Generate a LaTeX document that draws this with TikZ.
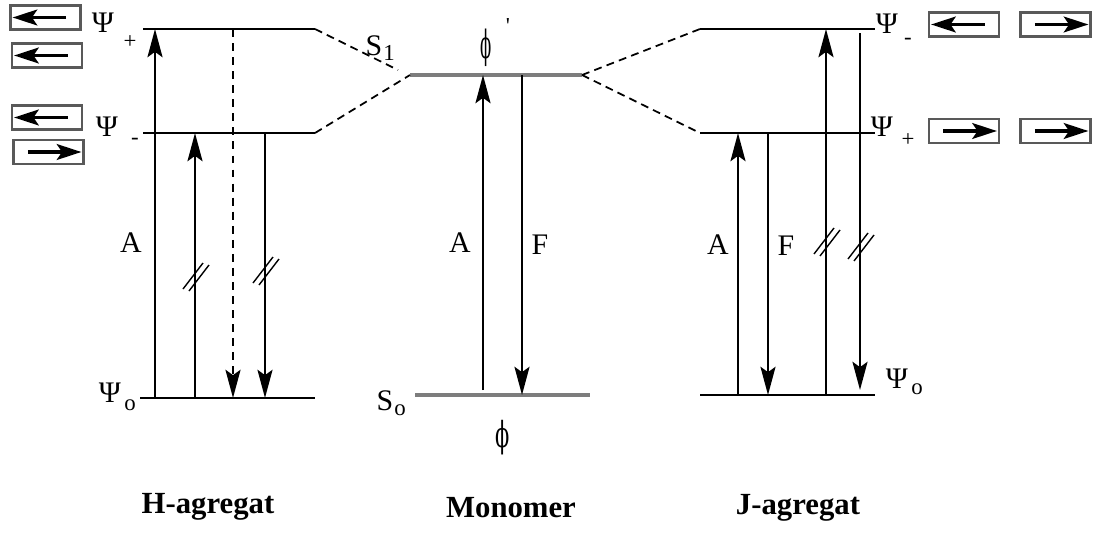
\documentclass[tikz,border=0pt]{standalone}
\usepackage{fontspec}
\setmainfont{Liberation Serif}
\newfontfamily\phifont{DejaVu Serif}
\usetikzlibrary{arrows.meta, positioning, calc}
\definecolor{levelgray}{RGB}{125,125,125}

\tikzset{
	level/.style={line width=1.6pt},
	monolevel/.style={line width=2.2pt, levelgray},
	link/.style={line width=1pt, dash pattern=on 4.5pt off 3pt},
	trans/.style={line width=1.6pt, -{Stealth[length=16pt,width=8.5pt,inset=3pt]}},
	nonrad/.style={trans, dash pattern=on 4.5pt off 3.5pt},
	dipole/.style={draw=black!65, line width=1.6pt, minimum width=1.4cm, minimum height=0.48cm, inner sep=0pt},
	dip/.style={line width=1.8pt, -{Stealth[length=14pt,width=9pt,inset=3pt]}, shorten >=2pt, shorten <=9pt},
	lab/.style={inner sep=0pt, font=\fontsize{17}{17}\selectfont},
	sub/.style={inner sep=0pt, font=\fontsize{13}{13}\selectfont},
	title/.style={inner sep=0pt, font=\fontsize{17.5}{18}\selectfont\bfseries},
	brk/.pic={\draw[line width=0.8pt] (-12,13)--(8,-13) (-6,15)--(14,-11);}
}

\begin{document}
\begin{tikzpicture}[x=0.02cm, y=-0.02cm]
\useasboundingbox (0,0) rectangle (1099,534);

% energy levels
\coordinate (hpL) at (143,29);  \coordinate (hpR) at (315,29);
\coordinate (hmL) at (143,133); \coordinate (hmR) at (315,133);
\coordinate (hgL) at (140,398); \coordinate (hgR) at (315,398);
\coordinate (s1L) at (410,75);  \coordinate (s1R) at (582,75);
\coordinate (s0L) at (415,395); \coordinate (s0R) at (590,395);
\coordinate (jmL) at (700,29);  \coordinate (jmR) at (875,29);
\coordinate (jpL) at (700,133); \coordinate (jpR) at (875,133);
\coordinate (jgL) at (700,395); \coordinate (jgR) at (875,395);

\draw[level] (hpL) -- (hpR);
\draw[level] (hmL) -- (hmR);
\draw[level] (hgL) -- (hgR);
\draw[monolevel] (s1L) -- (s1R);
\draw[monolevel] (s0L) -- (s0R);
\draw[level] (jmL) -- (jmR);
\draw[level] (jpL) -- (jpR);
\draw[level] (jgL) -- (jgR);

% splitting
\draw[link] (hpR) -- ($(s1L)+(-12,-5)$);
\draw[link] (hmR) -- (s1L);
\draw[link] (s1R) -- (jmL);
\draw[link] (s1R) -- (jpL);

% transitions
\coordinate (h1) at (155,0); \coordinate (h2) at (195,0);
\coordinate (h3) at (233,0); \coordinate (h4) at (265,0);
\coordinate (m1) at (483,0); \coordinate (m2) at (522,0);
\coordinate (j1) at (738,0); \coordinate (j2) at (768,0);
\coordinate (j3) at (826,0); \coordinate (j4) at (860,0);

\draw[trans] (h1 |- hgL) -- (h1 |- hpL);
\draw[trans] (h2 |- hgL) -- (h2 |- hmL);
\draw[nonrad] (h3 |- hpL) -- (h3 |- hgL);
\draw[trans] (h4 |- hmL) -- (h4 |- hgL);
\pic at ($(h2)+(0,276)$) {brk};
\pic at ($(h4)+(0,270)$) {brk};

\draw[trans] ($(m1 |- s0L)+(0,-5)$) -- (m1 |- s1L);
\draw[trans] (m2 |- s1L) -- (m2 |- s0L);

\draw[trans] (j1 |- jgL) -- (j1 |- jpL);
\draw[trans] (j2 |- jpL) -- (j2 |- jgL);
\draw[trans] (j3 |- jgL) -- (j3 |- jmL);
\draw[trans] ($(j4 |- jmL)+(0,4)$) -- ($(j4 |- jgL)+(0,-5)$);
\pic at ($(j3)+(0,241)$) {brk};
\pic at ($(j4)+(0,246)$) {brk};

% labels
\node[lab] (aH) at (131,243) {A};
\node[lab] (aM) at (460,243) {A};
\node[lab] (fM) at (540,245) {F};
\node[lab] (aJ) at (718,245) {A};
\node[lab] (fJ) at (786,246) {F};

\node[lab] (psiHp) at (103,23) {Ψ};
\node[sub] (psiHpS) at (130,42) {+};
\node[lab] (psiHm) at (107,127) {Ψ};
\node[sub] (psiHmS) at (135,141) {-};
\node[lab] (psiHo) at (110,393) {Ψ};
\node[sub] (psiHoS) at (130,405) {o};

\node[lab] (sOne) at (374,46) {S};
\node[sub] (sOneS) at (389,53) {1};
\node[lab] (phiOne) at (486,48) {\scalebox{0.55}[1.3]{\phifont ϕ}};
\node[sub] (phiOneP) at (508,26) {\textquotesingle};
\node[lab] (sZero) at (385,401) {S};
\node[sub] (sZeroS) at (400,410) {o};
\node[lab] (phiZero) at (503,438) {\scalebox{0.7}[1.2]{\phifont ϕ}};

\node[lab] (psiJm) at (887,24) {Ψ};
\node[sub] (psiJmS) at (908,41) {-};
\node[lab] (psiJp) at (882,127) {Ψ};
\node[sub] (psiJpS) at (908,140) {+};
\node[lab] (psiJo) at (897,379) {Ψ};
\node[sub] (psiJoS) at (917,389) {o};

% dipole boxes
\node[dipole] (dH1) at (45.5,17.5) {};
\node[dipole] (dH2) at (47,55.5) {};
\node[dipole] (dH3) at (47,117.5) {};
\node[dipole] (dH4) at (48.5,152) {};
\node[dipole] (dJ1) at (964,24.5) {};
\node[dipole] (dJ2) at (1055.5,24.5) {};
\node[dipole] (dJ3) at (964,131) {};
\node[dipole] (dJ4) at (1055.5,131) {};

\draw[dip] (dH1.east) -- (dH1.west);
\draw[dip] (dH2.east) -- (dH2.west);
\draw[dip] (dH3.east) -- (dH3.west);
\draw[dip] (dH4.west) -- (dH4.east);
\draw[dip] (dJ1.east) -- (dJ1.west);
\draw[dip] (dJ2.west) -- (dJ2.east);
\draw[dip] (dJ3.west) -- (dJ3.east);
\draw[dip] (dJ4.west) -- (dJ4.east);

% titles
\node[title] (tH) at (208,507) {H-agregat};
\node[title] (tM) at (511,508) {Monomer};
\node[title] (tJ) at (798,508) {J-agregat};
\end{tikzpicture}
\end{document}
